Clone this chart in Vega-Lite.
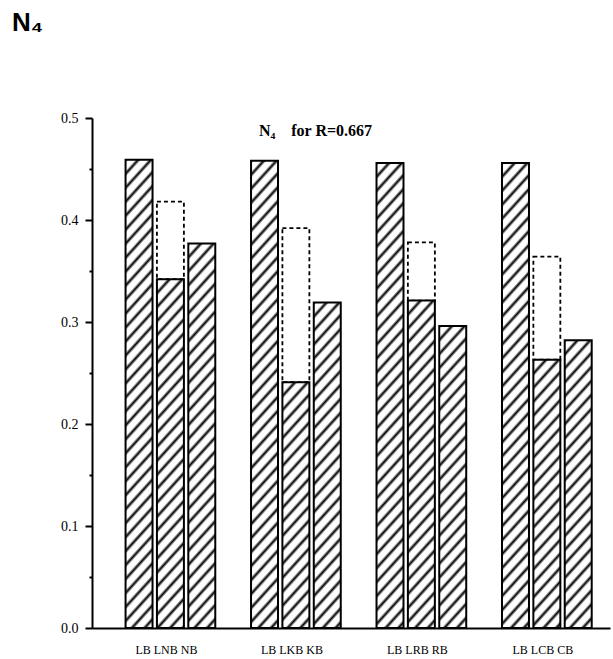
{
  "$schema": "https://vega.github.io/schema/vega-lite/v6.json",
  "autosize": "none",
  "width": 518,
  "height": 510,
  "padding": {"left": 92, "top": 118, "right": 3, "bottom": 31},
  "background": "white",
  "config": {"view": {"stroke": null}},
  "title": {"text": "N₄", "anchor": "start", "frame": "group", "dx": -80, "offset": 54, "font": "Liberation Sans", "fontSize": 26, "fontWeight": "bold", "color": "black", "baseline": "alphabetic"},
  "params": [
    {"name": "hatchStops", "value": [
      {"offset": 0, "color": "#000"}, {"offset": 0.005, "color": "#fff"}, {"offset": 0.015, "color": "#fff"},
      {"offset": 0.02, "color": "#000"}, {"offset": 0.025, "color": "#fff"}, {"offset": 0.035, "color": "#fff"},
      {"offset": 0.04, "color": "#000"}, {"offset": 0.045, "color": "#fff"}, {"offset": 0.055, "color": "#fff"},
      {"offset": 0.06, "color": "#000"}, {"offset": 0.065, "color": "#fff"}, {"offset": 0.075, "color": "#fff"},
      {"offset": 0.08, "color": "#000"}, {"offset": 0.085, "color": "#fff"}, {"offset": 0.095, "color": "#fff"},
      {"offset": 0.1, "color": "#000"}, {"offset": 0.105, "color": "#fff"}, {"offset": 0.115, "color": "#fff"},
      {"offset": 0.12, "color": "#000"}, {"offset": 0.125, "color": "#fff"}, {"offset": 0.135, "color": "#fff"},
      {"offset": 0.14, "color": "#000"}, {"offset": 0.145, "color": "#fff"}, {"offset": 0.155, "color": "#fff"},
      {"offset": 0.16, "color": "#000"}, {"offset": 0.165, "color": "#fff"}, {"offset": 0.175, "color": "#fff"},
      {"offset": 0.18, "color": "#000"}, {"offset": 0.185, "color": "#fff"}, {"offset": 0.195, "color": "#fff"},
      {"offset": 0.2, "color": "#000"}, {"offset": 0.205, "color": "#fff"}, {"offset": 0.215, "color": "#fff"},
      {"offset": 0.22, "color": "#000"}, {"offset": 0.225, "color": "#fff"}, {"offset": 0.235, "color": "#fff"},
      {"offset": 0.24, "color": "#000"}, {"offset": 0.245, "color": "#fff"}, {"offset": 0.255, "color": "#fff"},
      {"offset": 0.26, "color": "#000"}, {"offset": 0.265, "color": "#fff"}, {"offset": 0.275, "color": "#fff"},
      {"offset": 0.28, "color": "#000"}, {"offset": 0.285, "color": "#fff"}, {"offset": 0.295, "color": "#fff"},
      {"offset": 0.3, "color": "#000"}, {"offset": 0.305, "color": "#fff"}, {"offset": 0.315, "color": "#fff"},
      {"offset": 0.32, "color": "#000"}, {"offset": 0.325, "color": "#fff"}, {"offset": 0.335, "color": "#fff"},
      {"offset": 0.34, "color": "#000"}, {"offset": 0.345, "color": "#fff"}, {"offset": 0.355, "color": "#fff"},
      {"offset": 0.36, "color": "#000"}, {"offset": 0.365, "color": "#fff"}, {"offset": 0.375, "color": "#fff"},
      {"offset": 0.38, "color": "#000"}, {"offset": 0.385, "color": "#fff"}, {"offset": 0.395, "color": "#fff"},
      {"offset": 0.4, "color": "#000"}, {"offset": 0.405, "color": "#fff"}, {"offset": 0.415, "color": "#fff"},
      {"offset": 0.42, "color": "#000"}, {"offset": 0.425, "color": "#fff"}, {"offset": 0.435, "color": "#fff"},
      {"offset": 0.44, "color": "#000"}, {"offset": 0.445, "color": "#fff"}, {"offset": 0.455, "color": "#fff"},
      {"offset": 0.46, "color": "#000"}, {"offset": 0.465, "color": "#fff"}, {"offset": 0.475, "color": "#fff"},
      {"offset": 0.48, "color": "#000"}, {"offset": 0.485, "color": "#fff"}, {"offset": 0.495, "color": "#fff"},
      {"offset": 0.5, "color": "#000"}, {"offset": 0.505, "color": "#fff"}, {"offset": 0.515, "color": "#fff"},
      {"offset": 0.52, "color": "#000"}, {"offset": 0.525, "color": "#fff"}, {"offset": 0.535, "color": "#fff"},
      {"offset": 0.54, "color": "#000"}, {"offset": 0.545, "color": "#fff"}, {"offset": 0.555, "color": "#fff"},
      {"offset": 0.56, "color": "#000"}, {"offset": 0.565, "color": "#fff"}, {"offset": 0.575, "color": "#fff"},
      {"offset": 0.58, "color": "#000"}, {"offset": 0.585, "color": "#fff"}, {"offset": 0.595, "color": "#fff"},
      {"offset": 0.6, "color": "#000"}, {"offset": 0.605, "color": "#fff"}, {"offset": 0.615, "color": "#fff"},
      {"offset": 0.62, "color": "#000"}, {"offset": 0.625, "color": "#fff"}, {"offset": 0.635, "color": "#fff"},
      {"offset": 0.64, "color": "#000"}, {"offset": 0.645, "color": "#fff"}, {"offset": 0.655, "color": "#fff"},
      {"offset": 0.66, "color": "#000"}, {"offset": 0.665, "color": "#fff"}, {"offset": 0.675, "color": "#fff"},
      {"offset": 0.68, "color": "#000"}, {"offset": 0.685, "color": "#fff"}, {"offset": 0.695, "color": "#fff"},
      {"offset": 0.7, "color": "#000"}, {"offset": 0.705, "color": "#fff"}, {"offset": 0.715, "color": "#fff"},
      {"offset": 0.72, "color": "#000"}, {"offset": 0.725, "color": "#fff"}, {"offset": 0.735, "color": "#fff"},
      {"offset": 0.74, "color": "#000"}, {"offset": 0.745, "color": "#fff"}, {"offset": 0.755, "color": "#fff"},
      {"offset": 0.76, "color": "#000"}, {"offset": 0.765, "color": "#fff"}, {"offset": 0.775, "color": "#fff"},
      {"offset": 0.78, "color": "#000"}, {"offset": 0.785, "color": "#fff"}, {"offset": 0.795, "color": "#fff"},
      {"offset": 0.8, "color": "#000"}, {"offset": 0.805, "color": "#fff"}, {"offset": 0.815, "color": "#fff"},
      {"offset": 0.82, "color": "#000"}, {"offset": 0.825, "color": "#fff"}, {"offset": 0.835, "color": "#fff"},
      {"offset": 0.84, "color": "#000"}, {"offset": 0.845, "color": "#fff"}, {"offset": 0.855, "color": "#fff"},
      {"offset": 0.86, "color": "#000"}, {"offset": 0.865, "color": "#fff"}, {"offset": 0.875, "color": "#fff"},
      {"offset": 0.88, "color": "#000"}, {"offset": 0.885, "color": "#fff"}, {"offset": 0.895, "color": "#fff"},
      {"offset": 0.9, "color": "#000"}, {"offset": 0.905, "color": "#fff"}, {"offset": 0.915, "color": "#fff"},
      {"offset": 0.92, "color": "#000"}, {"offset": 0.925, "color": "#fff"}, {"offset": 0.935, "color": "#fff"},
      {"offset": 0.94, "color": "#000"}, {"offset": 0.945, "color": "#fff"}, {"offset": 0.955, "color": "#fff"},
      {"offset": 0.96, "color": "#000"}, {"offset": 0.965, "color": "#fff"}, {"offset": 0.975, "color": "#fff"},
      {"offset": 0.98, "color": "#000"}, {"offset": 0.985, "color": "#fff"}, {"offset": 0.995, "color": "#fff"},
      {"offset": 1, "color": "#000"}
    ]}
  ],
  "data": {"values": [
    {"slot": "g1 LB", "bar": "LB", "value": 0.459},
    {"slot": "LB LNB NB", "bar": "LNB", "value": 0.342, "est": 0.418},
    {"slot": "g1 NB", "bar": "NB", "value": 0.377},
    {"slot": "g2 LB", "bar": "LB", "value": 0.458},
    {"slot": "LB LKB KB", "bar": "LKB", "value": 0.241, "est": 0.392},
    {"slot": "g2 KB", "bar": "KB", "value": 0.319},
    {"slot": "g3 LB", "bar": "LB", "value": 0.456},
    {"slot": "LB LRB RB", "bar": "LRB", "value": 0.321, "est": 0.378},
    {"slot": "g3 RB", "bar": "RB", "value": 0.296},
    {"slot": "g4 LB", "bar": "LB", "value": 0.456},
    {"slot": "LB LCB CB", "bar": "LCB", "value": 0.263, "est": 0.364},
    {"slot": "g4 CB", "bar": "CB", "value": 0.282}
  ]},
  "encoding": {
    "x": {
      "field": "slot", "type": "nominal", "sort": null,
      "scale": {
        "domain": ["g0", "g1 LB", "LB LNB NB", "g1 NB", "g1x", "g2 LB", "LB LKB KB", "g2 KB", "g2x", "g3 LB", "LB LRB RB", "g3 RB", "g3x", "g4 LB", "LB LCB CB", "g4 CB"],
        "paddingInner": 0.14, "paddingOuter": 0.3265, "align": 0.107
      },
      "axis": {
        "title": null, "ticks": false, "tickSize": 0, "labelAngle": 0,
        "domainColor": "black", "domainWidth": 2,
        "labelFont": "Liberation Serif", "labelFontSize": 12, "labelColor": "black",
        "labelPadding": 16, "labelOffset": -4, "labelBaseline": "top",
        "labelExpr": "length(split(datum.label, ' ')) == 3 ? datum.label : ''"
      }
    },
    "y": {
      "field": "value", "type": "quantitative",
      "scale": {"domain": [0, 0.5], "nice": false},
      "axis": {
        "values": [0, 0.05, 0.1, 0.15, 0.2, 0.25, 0.3, 0.35, 0.4, 0.45, 0.5],
        "labelExpr": "round(datum.value * 100) % 10 == 0 ? format(datum.value, '.1f') : ''",
        "grid": false, "tickSize": 7, "tickWidth": 2, "tickColor": "black",
        "tickDash": {"condition": {"test": "round(datum.value * 100) % 10 != 0", "value": [3, 10]}, "value": []},
        "domainColor": "black", "domainWidth": 2,
        "labelFont": "Liberation Serif", "labelFontSize": 14, "labelColor": "black", "labelPadding": 7,
        "title": "N₄\u2003for R=0.667", "titleAngle": 0, "titleX": 223, "titleY": 17,
        "titleAlign": "center", "titleBaseline": "alphabetic",
        "titleFont": "Liberation Serif", "titleFontSize": 16, "titleFontWeight": "bold", "titleColor": "black"
      }
    }
  },
  "layer": [
    {
      "transform": [{"filter": "isValid(datum.est)"}],
      "mark": {"type": "bar", "fill": "white", "stroke": "black", "strokeWidth": 1.8, "strokeDash": [4, 3]},
      "encoding": {
        "y2": {"field": "est"}
      }
    },
    {
      "mark": {
        "type": "bar", "stroke": "black", "strokeWidth": 2,
        "fill": {"expr": "{gradient: 'linear', x1: 0, y1: 0, x2: 470 * 0.740 * bandwidth('x') / (0.5476 * bandwidth('x') * bandwidth('x') + 0.4525 * pow(scale('y', 0) - scale('y', datum.value), 2)), y2: 470 * 0.6727 * (scale('y', 0) - scale('y', datum.value)) / (0.5476 * bandwidth('x') * bandwidth('x') + 0.4525 * pow(scale('y', 0) - scale('y', datum.value), 2)), stops: hatchStops}"}
      }
    }
  ]
}
